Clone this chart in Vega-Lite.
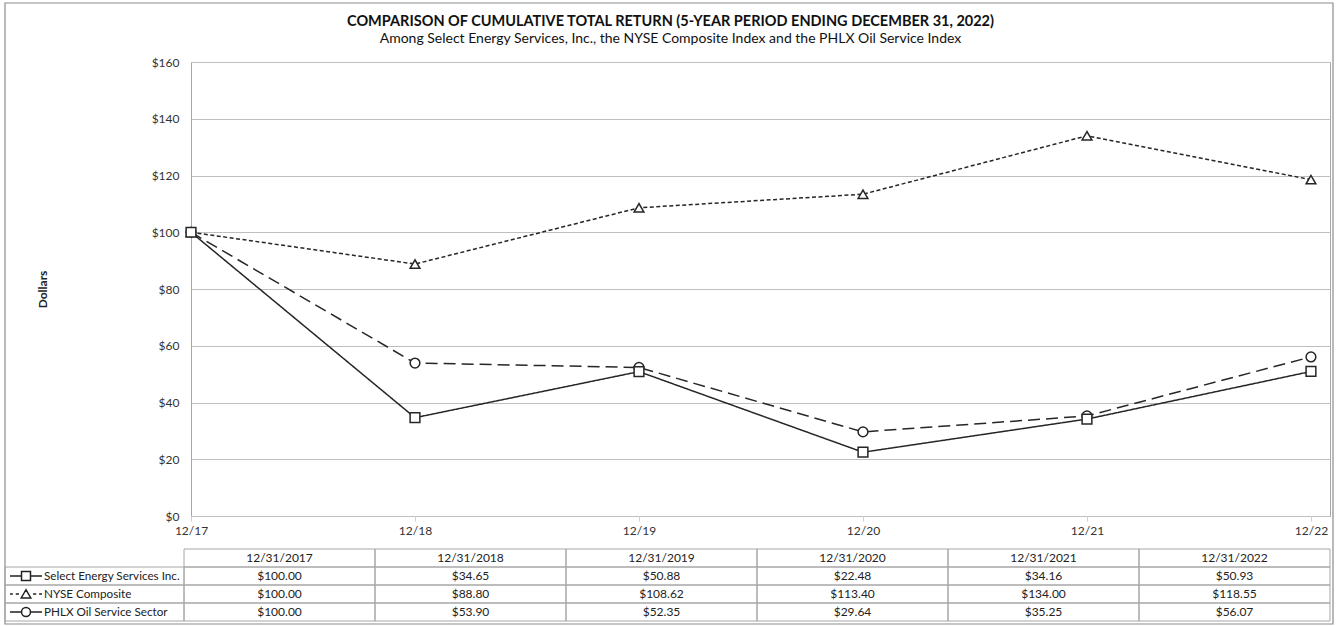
{
  "$schema": "https://vega.github.io/schema/vega-lite/v6.json",
  "width": 1139,
  "height": 454,
  "autosize": {"type": "none"},
  "padding": {"left": 191, "top": 62, "right": 6, "bottom": 110},
  "background": "white",
  "datasets": {
    "returns": [
      {"year": 2017, "period": "12/31/2017", "series": "NYSE Composite", "value": 100.00},
      {"year": 2018, "period": "12/31/2018", "series": "NYSE Composite", "value": 88.80},
      {"year": 2019, "period": "12/31/2019", "series": "NYSE Composite", "value": 108.62},
      {"year": 2020, "period": "12/31/2020", "series": "NYSE Composite", "value": 113.40},
      {"year": 2021, "period": "12/31/2021", "series": "NYSE Composite", "value": 134.00},
      {"year": 2022, "period": "12/31/2022", "series": "NYSE Composite", "value": 118.55},
      {"year": 2017, "period": "12/31/2017", "series": "PHLX Oil Service Sector", "value": 100.00},
      {"year": 2018, "period": "12/31/2018", "series": "PHLX Oil Service Sector", "value": 53.90},
      {"year": 2019, "period": "12/31/2019", "series": "PHLX Oil Service Sector", "value": 52.35},
      {"year": 2020, "period": "12/31/2020", "series": "PHLX Oil Service Sector", "value": 29.64},
      {"year": 2021, "period": "12/31/2021", "series": "PHLX Oil Service Sector", "value": 35.25},
      {"year": 2022, "period": "12/31/2022", "series": "PHLX Oil Service Sector", "value": 56.07},
      {"year": 2017, "period": "12/31/2017", "series": "Select Energy Services Inc.", "value": 100.00},
      {"year": 2018, "period": "12/31/2018", "series": "Select Energy Services Inc.", "value": 34.65},
      {"year": 2019, "period": "12/31/2019", "series": "Select Energy Services Inc.", "value": 50.88},
      {"year": 2020, "period": "12/31/2020", "series": "Select Energy Services Inc.", "value": 22.48},
      {"year": 2021, "period": "12/31/2021", "series": "Select Energy Services Inc.", "value": 34.16},
      {"year": 2022, "period": "12/31/2022", "series": "Select Energy Services Inc.", "value": 50.93}
    ],
    "frame": [{"name": "frame"}]
  },
  "title": {
    "text": "COMPARISON OF CUMULATIVE TOTAL RETURN (5-YEAR PERIOD ENDING DECEMBER 31, 2022)",
    "subtitle": "Among Select Energy Services, Inc., the NYSE Composite Index and the PHLX Oil Service Index",
    "anchor": "middle",
    "frame": "group",
    "dx": -90,
    "offset": -45,
    "font": "Lato",
    "fontSize": 14.5,
    "fontWeight": "bold",
    "color": "#111111",
    "subtitleFont": "Lato",
    "subtitleFontSize": 14,
    "subtitleColor": "#111111",
    "subtitlePadding": 3
  },
  "layer": [
    {
      "data": {"name": "frame"},
      "mark": {"type": "rect", "fill": "transparent", "stroke": "#8c8c8c", "strokeWidth": 1.2},
      "encoding": {
        "x": {"datum": "frame", "type": "nominal", "scale": {"type": "band", "domain": ["frame"], "range": [-186, 1142], "paddingInner": 0, "paddingOuter": 0}, "axis": null},
        "y": {"datum": "frame", "type": "nominal", "scale": {"type": "band", "domain": ["frame"], "range": [-59, 562], "paddingInner": 0, "paddingOuter": 0}, "axis": null}
      }
    },
    {
      "data": {"name": "returns"},
      "encoding": {
        "x": {
          "field": "year", "type": "quantitative",
          "scale": {"domain": [2017, 2022.085], "nice": false, "zero": false},
          "axis": {
            "values": [2017, 2018, 2019, 2020, 2021, 2022],
            "format": "d",
            "labelExpr": "'12/' + substring(datum.label, 2, 4)",
            "labelFlush": false,
            "grid": false, "domain": false,
            "ticks": true, "tickSize": 5, "tickColor": "#d0d0d0",
            "labelPadding": 4,
            "labelFont": "Lato", "labelFontSize": 12, "labelColor": "#333333",
            "title": null
          }
        },
        "y": {
          "field": "value", "type": "quantitative",
          "scale": {"domain": [0, 160], "nice": false, "zero": true},
          "axis": {
            "values": [0, 20, 40, 60, 80, 100, 120, 140, 160],
            "format": "$,.0f",
            "grid": true, "gridColor": "#bfbfbf", "gridWidth": 1,
            "domain": false, "ticks": false,
            "labelPadding": 12,
            "labelFont": "Lato", "labelFontSize": 12, "labelColor": "#333333",
            "title": "Dollars",
            "titleFont": "Lato", "titleFontSize": 12, "titleFontWeight": "bold", "titleColor": "#222222",
            "titleX": -142, "titleY": 227
          }
        }
      },
      "layer": [
        {
          "mark": {"type": "line", "color": "#262626", "strokeWidth": 1.5},
          "encoding": {
            "strokeDash": {
              "field": "series", "type": "nominal",
              "scale": {"domain": ["Select Energy Services Inc.", "NYSE Composite", "PHLX Oil Service Sector"], "range": [[1, 0], [4, 2.5], [12, 6]]},
              "legend": null
            }
          }
        },
        {
          "mark": {"type": "point", "filled": true, "fill": "white", "stroke": "#262626", "strokeWidth": 1.5, "size": 95, "opacity": 1},
          "encoding": {
            "shape": {
              "field": "series", "type": "nominal",
              "scale": {"domain": ["Select Energy Services Inc.", "NYSE Composite", "PHLX Oil Service Sector"], "range": ["square", "triangle-up", "circle"]},
              "legend": null
            }
          }
        }
      ]
    },
    {
      "data": {"name": "returns"},
      "encoding": {
        "x": {"field": "period", "type": "nominal", "scale": {"type": "band", "domain": ["12/31/2017", "12/31/2018", "12/31/2019", "12/31/2020", "12/31/2021", "12/31/2022"], "range": [-7, 1139], "paddingInner": 0, "paddingOuter": 0}, "axis": null}
      },
      "layer": [
        {
          "transform": [{"filter": "datum.series == 'Select Energy Services Inc.'"}],
          "mark": {"type": "rect", "fill": "transparent", "stroke": "#a6a6a6", "strokeWidth": 1},
          "encoding": {
            "y": {"datum": "header", "type": "nominal", "scale": {"type": "band", "domain": ["header", "Select Energy Services Inc.", "NYSE Composite", "PHLX Oil Service Sector"], "range": [487, 559], "paddingInner": 0, "paddingOuter": 0}, "axis": null}
          }
        },
        {
          "mark": {"type": "rect", "fill": "transparent", "stroke": "#a6a6a6", "strokeWidth": 1},
          "encoding": {
            "y": {"field": "series", "type": "nominal", "axis": null}
          }
        },
        {
          "transform": [{"filter": "datum.series == 'Select Energy Services Inc.'"}],
          "mark": {"type": "text", "font": "Lato", "fontSize": 12, "color": "#222222", "align": "center", "baseline": "middle"},
          "encoding": {
            "y": {"datum": "header", "type": "nominal", "axis": null},
            "text": {"field": "period", "type": "nominal"}
          }
        },
        {
          "mark": {"type": "text", "font": "Lato", "fontSize": 12, "color": "#222222", "align": "center", "baseline": "middle"},
          "encoding": {
            "y": {"field": "series", "type": "nominal", "axis": null},
            "text": {"field": "value", "type": "quantitative", "format": "$,.2f"}
          }
        }
      ]
    },
    {
      "data": {"name": "returns"},
      "transform": [{"filter": "datum.year == 2017"}],
      "encoding": {
        "x": {"datum": "label", "type": "nominal", "bandPosition": 0, "scale": {"type": "band", "domain": ["label"], "range": [-186, -7], "paddingInner": 0, "paddingOuter": 0}, "axis": null},
        "y": {"field": "series", "type": "nominal", "scale": {"type": "band", "domain": ["header", "Select Energy Services Inc.", "NYSE Composite", "PHLX Oil Service Sector"], "range": [487, 559], "paddingInner": 0, "paddingOuter": 0}, "axis": null}
      },
      "layer": [
        {
          "mark": {"type": "rect", "fill": "transparent", "stroke": "#a6a6a6", "strokeWidth": 1},
          "encoding": {
            "x": {"datum": "label", "type": "nominal", "axis": null}
          }
        },
        {
          "mark": {"type": "text", "font": "Lato", "fontSize": 11.7, "color": "#222222", "align": "left", "baseline": "middle", "dx": 39},
          "encoding": {
            "text": {"field": "series", "type": "nominal"}
          }
        },
        {
          "mark": {"type": "point", "filled": false, "stroke": "#222222", "strokeWidth": 1.5, "size": 1024, "xOffset": 21, "opacity": 1},
          "encoding": {
            "shape": {
              "field": "series", "type": "nominal",
              "scale": {
                "domain": ["Select Energy Services Inc.", "NYSE Composite", "PHLX Oil Service Sector"],
                "range": [
                  "M-1,0H-0.28M0.28,0H1M-0.28,-0.28H0.28V0.28H-0.28Z",
                  "M-1,0H-0.82M-0.64,0H-0.44M0.44,0H0.64M0.82,0H1M-0.3,0.25L0,-0.27L0.3,0.25Z",
                  "M-1,0H-0.28M0.28,0H1M0.28,0A0.28,0.28 0 1,1 -0.28,0A0.28,0.28 0 1,1 0.28,0Z"
                ]
              },
              "legend": null
            }
          }
        }
      ]
    }
  ],
  "resolve": {"scale": {"x": "independent", "y": "independent", "shape": "independent"}},
  "config": {
    "view": {"stroke": "#a6a6a6", "strokeWidth": 1},
    "font": "Lato"
  }
}
